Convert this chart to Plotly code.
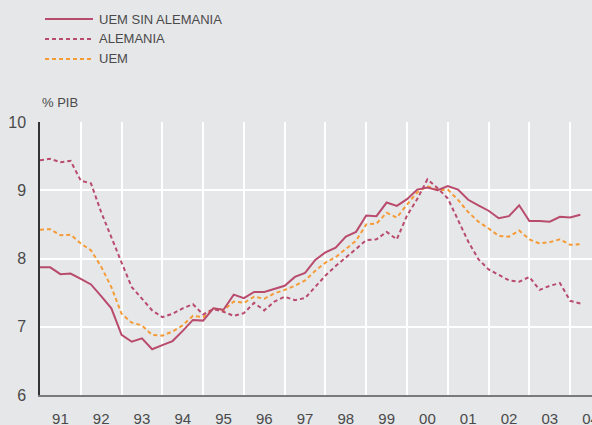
import plotly.graph_objects as go

# Trimestres 1991T1 - 2004T2
trimestres = [f"{a}T{q}" for a in range(1991, 2005) for q in range(1, 5)][:54]

uem_sin_alemania = [
    7.87, 7.87, 7.77, 7.78, 7.70, 7.62, 7.45, 7.27, 6.88, 6.78,
    6.83, 6.67, 6.73, 6.79, 6.94, 7.10, 7.09, 7.27, 7.25, 7.47,
    7.42, 7.51, 7.51, 7.56, 7.60, 7.73, 7.79, 7.98, 8.09, 8.16,
    8.32, 8.39, 8.63, 8.62, 8.82, 8.77, 8.87, 9.01, 9.04, 9.00,
    9.06, 9.01, 8.86, 8.78, 8.70, 8.59, 8.62, 8.78, 8.55, 8.55,
    8.54, 8.61, 8.60, 8.64,
]
alemania = [
    9.44, 9.46, 9.41, 9.43, 9.14, 9.10, 8.68, 8.30, 7.94, 7.58,
    7.41, 7.24, 7.14, 7.19, 7.27, 7.33, 7.18, 7.26, 7.22, 7.16,
    7.20, 7.35, 7.24, 7.37, 7.44, 7.39, 7.42, 7.58, 7.75, 7.89,
    8.01, 8.14, 8.27, 8.28, 8.39, 8.28, 8.63, 8.87, 9.16, 9.03,
    8.88, 8.57, 8.25, 7.99, 7.84, 7.76, 7.68, 7.66, 7.73, 7.54,
    7.60, 7.64, 7.38, 7.34,
]
uem = [
    8.42, 8.43, 8.34, 8.35, 8.22, 8.12, 7.88, 7.58, 7.19, 7.06,
    7.02, 6.88, 6.87, 6.93, 7.02, 7.16, 7.14, 7.27, 7.24, 7.37,
    7.35, 7.44, 7.41, 7.49, 7.54, 7.60, 7.68, 7.82, 7.94, 8.02,
    8.14, 8.26, 8.50, 8.51, 8.67, 8.60, 8.79, 8.97, 9.06, 9.00,
    9.01, 8.86, 8.68, 8.54, 8.44, 8.33, 8.32, 8.41, 8.28, 8.22,
    8.24, 8.28, 8.20, 8.21,
]
anios = list(range(1991, 2005))
etiquetas = [str(a)[2:] for a in anios]

ROJO = "#b94b6d"
NARANJA = "#f59b36"
FONDO = "#e6e7e9"
TEXTO = "#4a4a4a"
FUENTE = "Liberation Sans, Arial, sans-serif"

x = [int(t[:4]) + (int(t[-1]) - 1) / 4 for t in trimestres]

series = [
    ("UEM SIN ALEMANIA", uem_sin_alemania, ROJO, "solid"),
    ("ALEMANIA", alemania, ROJO, "4px,3px"),
    ("UEM", uem, NARANJA, "4px,3px"),
]

fig = go.Figure()
for nombre, ys, color, dash in series[::-1]:
    fig.add_trace(go.Scatter(x=x, y=ys, name=nombre, mode="lines",
                             line=dict(color=color, width=2, dash=dash),
                             showlegend=False))

# leyenda dibujada a mano (líneas de muestra largas)
for i, (nombre, _, color, dash) in enumerate(series):
    yp = 19 + 20 * i
    fig.add_shape(type="line", xref="paper", yref="paper",
                  x0=5 / 552, x1=53 / 552, y0=1 + (122 - yp) / 273,
                  y1=1 + (122 - yp) / 273,
                  line=dict(color=color, width=2, dash=dash))
    fig.add_annotation(text=nombre, xref="paper", yref="paper",
                       x=57 / 552, y=1 + (122 - yp) / 273, xanchor="left",
                       yanchor="middle", showarrow=False,
                       font=dict(size=13, color=TEXTO, family=FUENTE))

fig.add_annotation(text="% PIB", xref="paper", yref="paper", x=0,
                   y=1 + (122 - 102) / 273, xanchor="left", yanchor="middle",
                   showarrow=False, font=dict(size=13, color=TEXTO, family=FUENTE))

fig.update_layout(
    width=592, height=425, margin=dict(l=40, r=0, t=122, b=30),
    paper_bgcolor=FONDO, plot_bgcolor=FONDO, showlegend=False,
    font=dict(family=FUENTE, color=TEXTO),
)
fig.update_xaxes(
    range=[1991, 2004.536], tickmode="array",
    tickvals=[a + 0.5 for a in anios], ticktext=etiquetas,
    showgrid=False, zeroline=False, ticks="", ticklabelstandoff=9,
    ticklabeloverflow="allow", automargin=False,
    tickfont=dict(size=15, color=TEXTO),
    showline=True, linecolor="#7a7a7a", linewidth=1.5,
    minor=dict(tickmode="array", tickvals=anios[1:], showgrid=True,
               gridcolor="white", gridwidth=2, ticks=""),
)
fig.update_yaxes(
    range=[6, 10], tickvals=[6, 7, 8, 9, 10], showgrid=True,
    gridcolor="white", gridwidth=2, zeroline=False, ticks="",
    ticklabelstandoff=9, automargin=False, tickfont=dict(size=16, color=TEXTO),
    showline=True, linecolor="#333333", linewidth=1.5,
)

fig.write_html(
    "out.html",
    config={"displayModeBar": False},
    post_script="document.body.style.margin='0';"
                "document.body.style.overflow='hidden';",
)
